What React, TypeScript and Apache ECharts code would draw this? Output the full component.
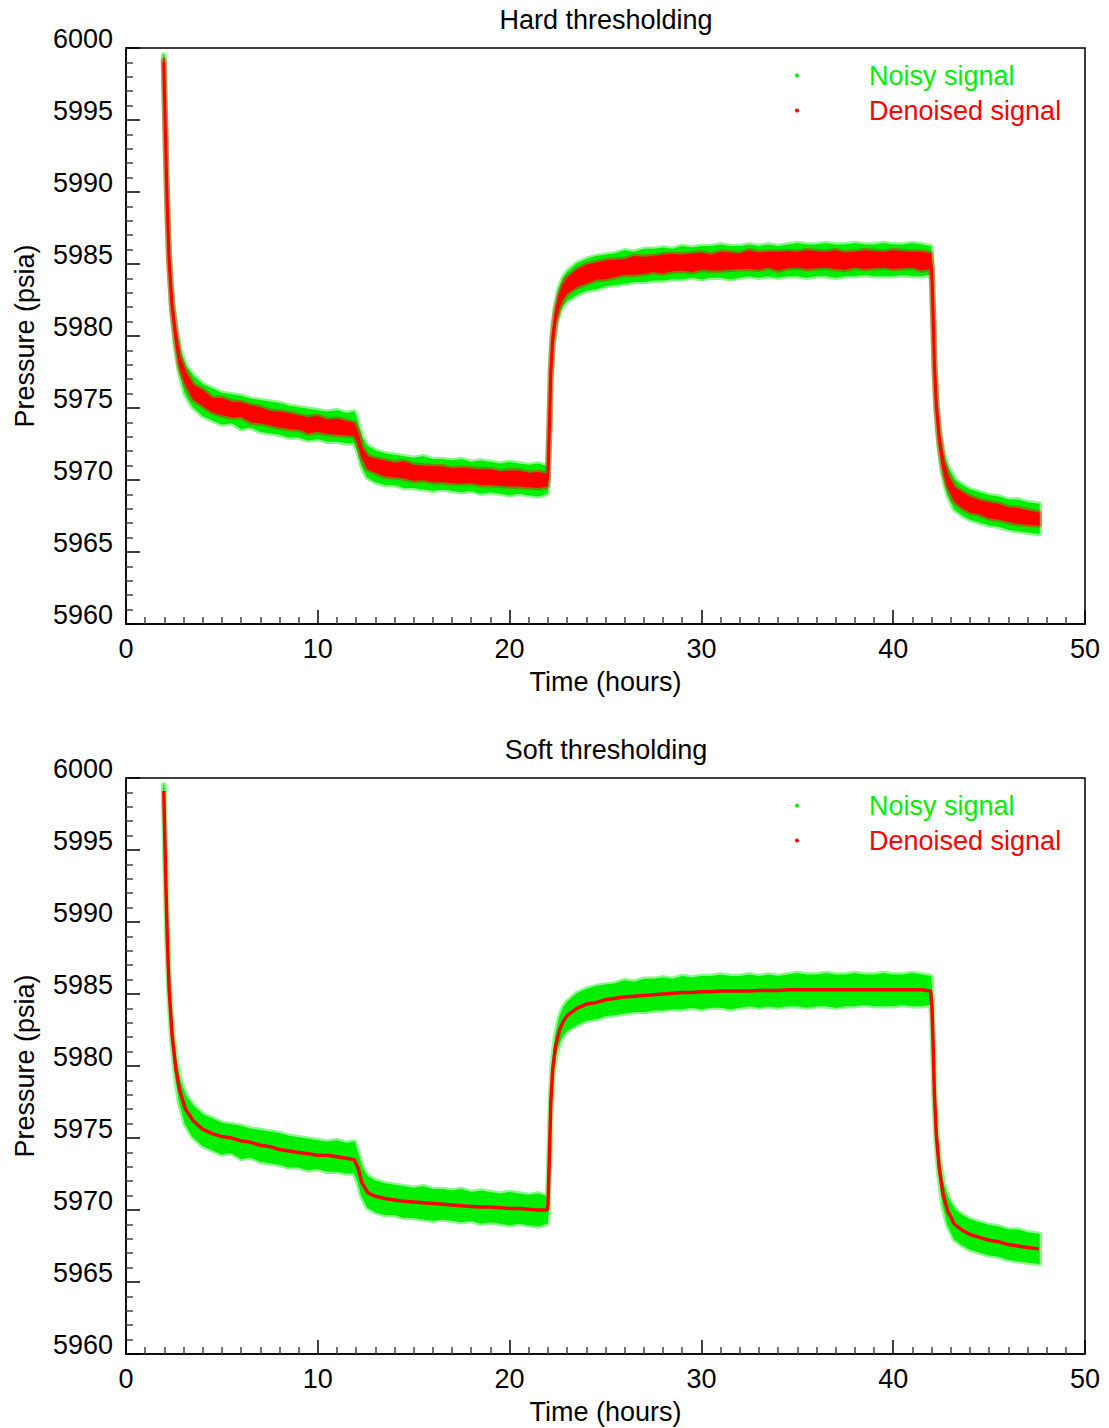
import React, { useEffect, useRef } from "react";
import * as echarts from "echarts";

// ---- data ----
const chartTitles = ["Hard thresholding", "Soft thresholding"];
const xAxisName = "Time (hours)";
const yAxisName = "Pressure (psia)";
const seriesNames = ["Noisy signal", "Denoised signal"];

const timeHours = [
  1.97, 2.05, 2.15, 2.25, 2.4, 2.6, 2.8, 3.1, 3.5, 4.0, 4.5, 5.0, 5.5, 6.0, 6.5, 7.0, 7.5, 8.0, 8.5, 9.0,
  9.5, 10.0, 10.5, 11.0, 11.5, 11.9, 12.1, 12.3, 12.6, 13.0, 13.5, 14.0, 14.5, 15.0, 15.5, 16.0, 16.5,
  17.0, 17.5, 18.0, 18.5, 19.0, 19.5, 20.0, 20.5, 21.0, 21.5, 21.95, 22.0, 22.08, 22.15, 22.25, 22.4,
  22.6, 22.8, 23.0, 23.5, 24.0, 24.5, 25.0, 25.5, 26.0, 26.5, 27.0, 27.5, 28.0, 28.5, 29.0, 29.5, 30.0,
  30.5, 31.0, 31.5, 32.0, 32.5, 33.0, 33.5, 34.0, 34.5, 35.0, 35.5, 36.0, 36.5, 37.0, 37.5, 38.0, 38.5,
  39.0, 39.5, 40.0, 40.5, 41.0, 41.5, 41.95, 42.02, 42.08, 42.15, 42.25, 42.4, 42.6, 42.85, 43.2, 43.6,
  44.0, 44.5, 45.0, 45.5, 46.0, 46.5, 47.0, 47.6,
];

const denoisedSoft = [
  5999.1, 5994.2, 5989.0, 5985.3, 5982.2, 5979.8, 5978.3, 5977.0, 5976.2, 5975.6, 5975.3, 5975.1, 5975.0,
  5974.8, 5974.7, 5974.5, 5974.4, 5974.2, 5974.1, 5974.0, 5973.9, 5973.8, 5973.8, 5973.7, 5973.6, 5973.5,
  5972.9, 5971.9, 5971.2, 5970.95, 5970.8, 5970.7, 5970.6, 5970.55, 5970.5, 5970.45, 5970.4, 5970.35,
  5970.3, 5970.25, 5970.2, 5970.2, 5970.15, 5970.1, 5970.1, 5970.05, 5970.0, 5970.0, 5970.3, 5974.0,
  5977.5, 5979.8, 5981.4, 5982.5, 5983.1, 5983.5, 5984.0, 5984.3, 5984.4, 5984.6, 5984.7, 5984.8, 5984.85,
  5984.9, 5984.95, 5985.0, 5985.05, 5985.1, 5985.1, 5985.15, 5985.15, 5985.2, 5985.2, 5985.2, 5985.2,
  5985.25, 5985.25, 5985.25, 5985.3, 5985.3, 5985.3, 5985.3, 5985.3, 5985.3, 5985.3, 5985.3, 5985.3,
  5985.3, 5985.3, 5985.3, 5985.3, 5985.3, 5985.3, 5985.2, 5984.2, 5981.5, 5978.0, 5975.2, 5972.9, 5971.1,
  5969.9, 5969.0, 5968.6, 5968.3, 5968.1, 5967.9, 5967.8, 5967.6, 5967.5, 5967.4, 5967.3,
];

const denoisedHard = [
  5999.0, 5994.3, 5989.1, 5985.2, 5982.1, 5979.9, 5978.2, 5977.1, 5976.1, 5975.7, 5975.2, 5975.1, 5974.9,
  5974.9, 5974.6, 5974.5, 5974.3, 5974.2, 5974.1, 5974.0, 5973.8, 5973.9, 5973.7, 5973.7, 5973.6, 5973.5,
  5972.9, 5971.9, 5971.2, 5971.0, 5970.8, 5970.7, 5970.7, 5970.5, 5970.5, 5970.4, 5970.4, 5970.3, 5970.3,
  5970.3, 5970.2, 5970.2, 5970.1, 5970.1, 5970.1, 5970.0, 5970.0, 5970.0, 5970.3, 5974.0, 5977.5, 5979.8,
  5981.4, 5982.5, 5983.1, 5983.5, 5984.0, 5984.3, 5984.5, 5984.6, 5984.7, 5984.8, 5984.9, 5984.9, 5985.0,
  5985.0, 5985.1, 5985.1, 5985.1, 5985.2, 5985.1, 5985.2, 5985.2, 5985.2, 5985.3, 5985.2, 5985.3, 5985.2,
  5985.3, 5985.3, 5985.3, 5985.3, 5985.3, 5985.3, 5985.2, 5985.3, 5985.3, 5985.3, 5985.3, 5985.3, 5985.3,
  5985.3, 5985.2, 5985.2, 5984.2, 5981.5, 5978.0, 5975.2, 5972.9, 5971.1, 5969.9, 5969.0, 5968.6, 5968.3,
  5968.1, 5967.9, 5967.8, 5967.6, 5967.5, 5967.4, 5967.3,
];

// spread of the hard-thresholded points around their centre (psia)
const hardSpread = [
  0.15, 0.15, 0.15, 0.15, 0.2, 0.25, 0.3, 0.4, 0.45, 0.5, 0.45, 0.55, 0.5, 0.45, 0.55, 0.5, 0.45, 0.5,
  0.5, 0.45, 0.5, 0.5, 0.45, 0.5, 0.45, 0.4, 0.3, 0.3, 0.4, 0.45, 0.5, 0.45, 0.55, 0.5, 0.45, 0.5,
  0.5, 0.45, 0.5, 0.45, 0.5, 0.5, 0.45, 0.5, 0.5, 0.45, 0.5, 0.4, 0.2, 0.2, 0.2, 0.25, 0.3, 0.4, 0.45,
  0.5, 0.55, 0.6, 0.55, 0.6, 0.55, 0.5, 0.6, 0.55, 0.5, 0.6, 0.55, 0.5, 0.6, 0.55, 0.5, 0.6, 0.55, 0.5,
  0.6, 0.55, 0.5, 0.6, 0.55, 0.5, 0.6, 0.55, 0.5, 0.6, 0.55, 0.5, 0.6, 0.55, 0.5, 0.6, 0.55, 0.5, 0.6,
  0.5, 0.2, 0.2, 0.2, 0.2, 0.25, 0.3, 0.4, 0.45, 0.5, 0.5, 0.45, 0.5, 0.5, 0.45, 0.5, 0.45, 0.4,
];

const noisyLow = [
  5998.9, 5993.9, 5988.7, 5985.0, 5981.8, 5979.2, 5977.5, 5976.0, 5975.1, 5974.5, 5974.2, 5973.9, 5974.0,
  5973.6, 5973.7, 5973.4, 5973.3, 5973.2, 5973.0, 5973.0, 5972.8, 5972.9, 5972.7, 5972.7, 5972.6, 5972.6,
  5972.0, 5971.0, 5970.2, 5969.9, 5969.7, 5969.7, 5969.5, 5969.5, 5969.4, 5969.3, 5969.4, 5969.3, 5969.2,
  5969.3, 5969.1, 5969.2, 5969.1, 5969.0, 5969.1, 5969.0, 5968.9, 5969.1, 5969.9, 5973.6, 5977.1, 5979.3,
  5980.8, 5981.7, 5982.2, 5982.5, 5982.9, 5983.2, 5983.3, 5983.5, 5983.6, 5983.7, 5983.8, 5983.8, 5983.9,
  5983.9, 5984.0, 5984.0, 5984.1, 5984.0, 5984.1, 5984.1, 5984.0, 5984.1, 5984.2, 5984.1, 5984.2, 5984.1,
  5984.2, 5984.2, 5984.1, 5984.2, 5984.2, 5984.1, 5984.2, 5984.2, 5984.3, 5984.2, 5984.2, 5984.2, 5984.3,
  5984.2, 5984.2, 5984.3, 5983.7, 5981.1, 5977.6, 5974.8, 5972.4, 5970.4, 5969.0, 5968.0, 5967.6, 5967.3,
  5967.1, 5966.9, 5966.8, 5966.6, 5966.5, 5966.4, 5966.3,
];

const noisyHigh = [
  5999.5, 5994.5, 5989.3, 5985.6, 5982.6, 5980.4, 5979.0, 5977.9, 5977.2, 5976.6, 5976.3, 5976.0, 5975.9,
  5975.8, 5975.6, 5975.5, 5975.4, 5975.3, 5975.1, 5975.0, 5974.9, 5974.8, 5974.7, 5974.8, 5974.6, 5974.7,
  5973.8, 5972.9, 5972.3, 5972.0, 5971.8, 5971.7, 5971.6, 5971.5, 5971.6, 5971.4, 5971.4, 5971.3, 5971.4,
  5971.2, 5971.3, 5971.2, 5971.1, 5971.2, 5971.1, 5971.0, 5971.1, 5970.9, 5970.8, 5974.4, 5977.9, 5980.3,
  5982.0, 5983.3, 5984.0, 5984.4, 5985.0, 5985.3, 5985.5, 5985.6, 5985.7, 5985.9, 5985.8, 5986.0, 5986.0,
  5986.1, 5986.0, 5986.2, 5986.1, 5986.2, 5986.2, 5986.3, 5986.2, 5986.2, 5986.3, 5986.2, 5986.3, 5986.2,
  5986.3, 5986.4, 5986.3, 5986.3, 5986.4, 5986.3, 5986.3, 5986.4, 5986.3, 5986.3, 5986.4, 5986.3, 5986.3,
  5986.4, 5986.3, 5986.2, 5984.7, 5981.9, 5978.4, 5975.6, 5973.4, 5971.8, 5970.8, 5970.0, 5969.6, 5969.3,
  5969.1, 5968.9, 5968.8, 5968.6, 5968.6, 5968.4, 5968.3,
];

const GREEN = "#00ee00";
const RED = "#ff0000";
const FONT = "'Liberation Sans', Arial, Helvetica, sans-serif";
const FS = 27;

function bandSeries(
  name: string,
  low: number[],
  high: number[],
  color: string,
  fringe: string,
  idx: number,
  z: number
) {
  return {
    type: "custom",
    name,
    xAxisIndex: idx,
    yAxisIndex: idx,
    clip: true,
    silent: true,
    z,
    itemStyle: { color },
    data: [[timeHours[0], high[0]]],
    renderItem: (_params: any, api: any) => {
      const pts: number[][] = [];
      for (let i = 0; i < timeHours.length; i++) pts.push(api.coord([timeHours[i], high[i]]));
      for (let i = timeHours.length - 1; i >= 0; i--) pts.push(api.coord([timeHours[i], low[i]]));
      return {
        type: "group",
        children: [
          {
            type: "polygon",
            shape: { points: pts },
            style: { fill: "none", stroke: fringe, lineWidth: 6, lineJoin: "round" },
          },
          {
            type: "polygon",
            shape: { points: pts },
            style: { fill: color, stroke: color, lineWidth: 1.5, lineJoin: "round" },
          },
        ],
      };
    },
  };
}

function lineSeries(name: string, values: number[], idx: number, width: number, z: number) {
  return {
    type: "line",
    name,
    xAxisIndex: idx,
    yAxisIndex: idx,
    showSymbol: false,
    silent: true,
    z,
    itemStyle: { color: RED },
    lineStyle: { color: RED, width },
    data: timeHours.map((t, i) => [t, values[i]]),
  };
}

export default function App() {
  const ref = useRef<HTMLDivElement>(null);
  useEffect(() => {
    if (!ref.current) return;
    const chart = echarts.init(ref.current, undefined, { renderer: "svg" });
    const tops = [48, 778];
    const hardLow = denoisedHard.map((v, i) => v - hardSpread[i]);
    const hardHigh = denoisedHard.map((v, i) => v + hardSpread[i]);

    const grids = tops.map((top) => ({
      left: 126,
      top,
      width: 959,
      height: 576,
      show: true,
      borderColor: "#000",
      borderWidth: 1.5,
      backgroundColor: "transparent",
    }));

    const xAxes = tops.map((_, i) => ({
      type: "value",
      gridIndex: i,
      min: 0,
      max: 50,
      interval: 10,
      name: xAxisName,
      nameLocation: "middle",
      nameGap: 44,
      nameTextStyle: { fontSize: FS, color: "#000", fontFamily: FONT },
      axisLine: { show: true, lineStyle: { color: "#000", width: 1.5 } },
      axisTick: { show: true, inside: true, length: 14, lineStyle: { color: "#000", width: 1.5 } },
      minorTick: { show: true, splitNumber: 10, length: 7, lineStyle: { color: "#444", width: 1.5 } },
      splitLine: { show: false },
      minorSplitLine: { show: false },
      axisLabel: { fontSize: FS, color: "#000", fontFamily: FONT, margin: 11, formatter: (v: number) => String(v) },
    }));

    const yAxes = tops.map((_, i) => ({
      type: "value",
      gridIndex: i,
      min: 5960,
      max: 6000,
      interval: 5,
      name: yAxisName,
      nameLocation: "middle",
      nameGap: 88,
      nameTextStyle: { fontSize: FS, color: "#000", fontFamily: FONT },
      axisLine: { show: true, lineStyle: { color: "#000", width: 1.5 } },
      axisTick: { show: true, inside: true, length: 14, lineStyle: { color: "#000", width: 1.5 } },
      minorTick: { show: true, splitNumber: 5, length: 7, lineStyle: { color: "#444", width: 1.5 } },
      splitLine: { show: false },
      minorSplitLine: { show: false },
      axisLabel: {
        fontSize: FS,
        color: "#000",
        fontFamily: FONT,
        margin: 13,
        lineHeight: 18,
        verticalAlign: "bottom",
        formatter: (v: number) => String(v),
      },
    }));

    const titles = tops.map((top, i) => ({
      text: chartTitles[i],
      left: 606,
      top: top - 42,
      textAlign: "center",
      padding: 0,
      textStyle: { fontSize: FS, fontWeight: "normal", color: "#000", fontFamily: FONT },
    }));

    const legends = tops.map((top) => ({
      orient: "vertical",
      left: 790,
      top: top + 9,
      icon: "circle",
      itemWidth: 4,
      itemHeight: 4,
      itemGap: 8,
      selectedMode: false,
      textStyle: { fontSize: FS, fontFamily: FONT, lineHeight: 27, padding: [0, 0, 0, 65] },
      data: [
        { name: seriesNames[0], itemStyle: { color: GREEN }, textStyle: { color: GREEN } },
        { name: seriesNames[1], itemStyle: { color: RED }, textStyle: { color: RED } },
      ],
    }));

    const greenFringe = "rgba(0,238,0,0.45)";
    const redFringe = "rgba(255,0,0,0.4)";
    const series: any[] = [
      bandSeries(seriesNames[0], noisyLow, noisyHigh, GREEN, greenFringe, 0, 1),
      bandSeries(seriesNames[1], hardLow, hardHigh, RED, redFringe, 0, 2),
      lineSeries(seriesNames[1], denoisedHard, 0, 3, 3),
      bandSeries(seriesNames[0], noisyLow, noisyHigh, GREEN, greenFringe, 1, 1),
      lineSeries(seriesNames[1], denoisedSoft, 1, 3.5, 3),
    ];

    chart.setOption({
      animation: false,
      backgroundColor: "#fff",
      textStyle: { fontFamily: FONT },
      title: titles,
      legend: legends,
      grid: grids,
      xAxis: xAxes,
      yAxis: yAxes,
      series,
    });
    return () => chart.dispose();
  }, []);

  return (
    <div
      ref={ref}
      style={{ position: "absolute", left: 0, top: 0, width: 1109, height: 1428, background: "#fff" }}
    />
  );
}
